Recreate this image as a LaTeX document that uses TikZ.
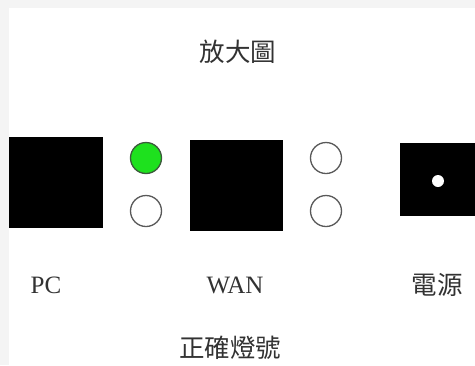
\documentclass[tikz,border=0pt]{standalone}
\usepackage{fontspec}
\setmainfont{Liberation Serif}
\newfontfamily\cjk{Noto Sans CJK TC}
\definecolor{bggrey}{RGB}{244,244,244}
\definecolor{ledgreen}{RGB}{30,225,30}
\definecolor{ledrim}{RGB}{60,90,60}
\definecolor{txt}{RGB}{50,50,50}
\begin{document}
\begin{tikzpicture}[x=1pt,y=-1pt,
  port/.style={draw=black,fill=black,inner sep=0pt,minimum width=#1,minimum height=#1},
  ledoff/.style={circle,draw=black!65,line width=1.3pt,fill=white,inner sep=0pt,minimum size=31pt},
  ledon/.style={circle,draw=ledrim,line width=1.3pt,fill=ledgreen,inner sep=0pt,minimum size=31pt},
  lbl/.style={inner sep=0pt,text=txt,font=\fontsize{25}{25}\selectfont},
  clbl/.style={inner sep=0pt,text=txt,font=\fontsize{25.5}{25.5}\selectfont\cjk}]
\fill[bggrey] (0,0) rectangle (475,365);
\fill[white] (9,8) rectangle (475,365);
\useasboundingbox (0,0) rectangle (475,365);
\node[clbl] (title) at (238,52) {放大圖};
\node[port=90pt,minimum width=93pt] (pc) at (55.5,182) {};
\node[ledon] (led1) at (146,158) {};
\node[ledoff] (led2) at (146,211) {};
\node[port=90pt,minimum width=92pt] (wan) at (236,185) {};
\node[ledoff] (led3) at (326,158) {};
\node[ledoff] (led4) at (326,211) {};
\node[port=72pt,minimum width=74pt] (pwr) at (437,179) {};
\node[circle,fill=white,inner sep=0pt,minimum size=12pt] (dot) at (438,181) {};
\node[lbl] (pclbl) at (46,285) {PC};
\node[lbl] (wanlbl) at (235,285) {WAN};
\node[clbl] (pwrlbl) at (437,285) {電源};
\node[clbl] (caption) at (230,348) {正確燈號};
\end{tikzpicture}
\end{document}
